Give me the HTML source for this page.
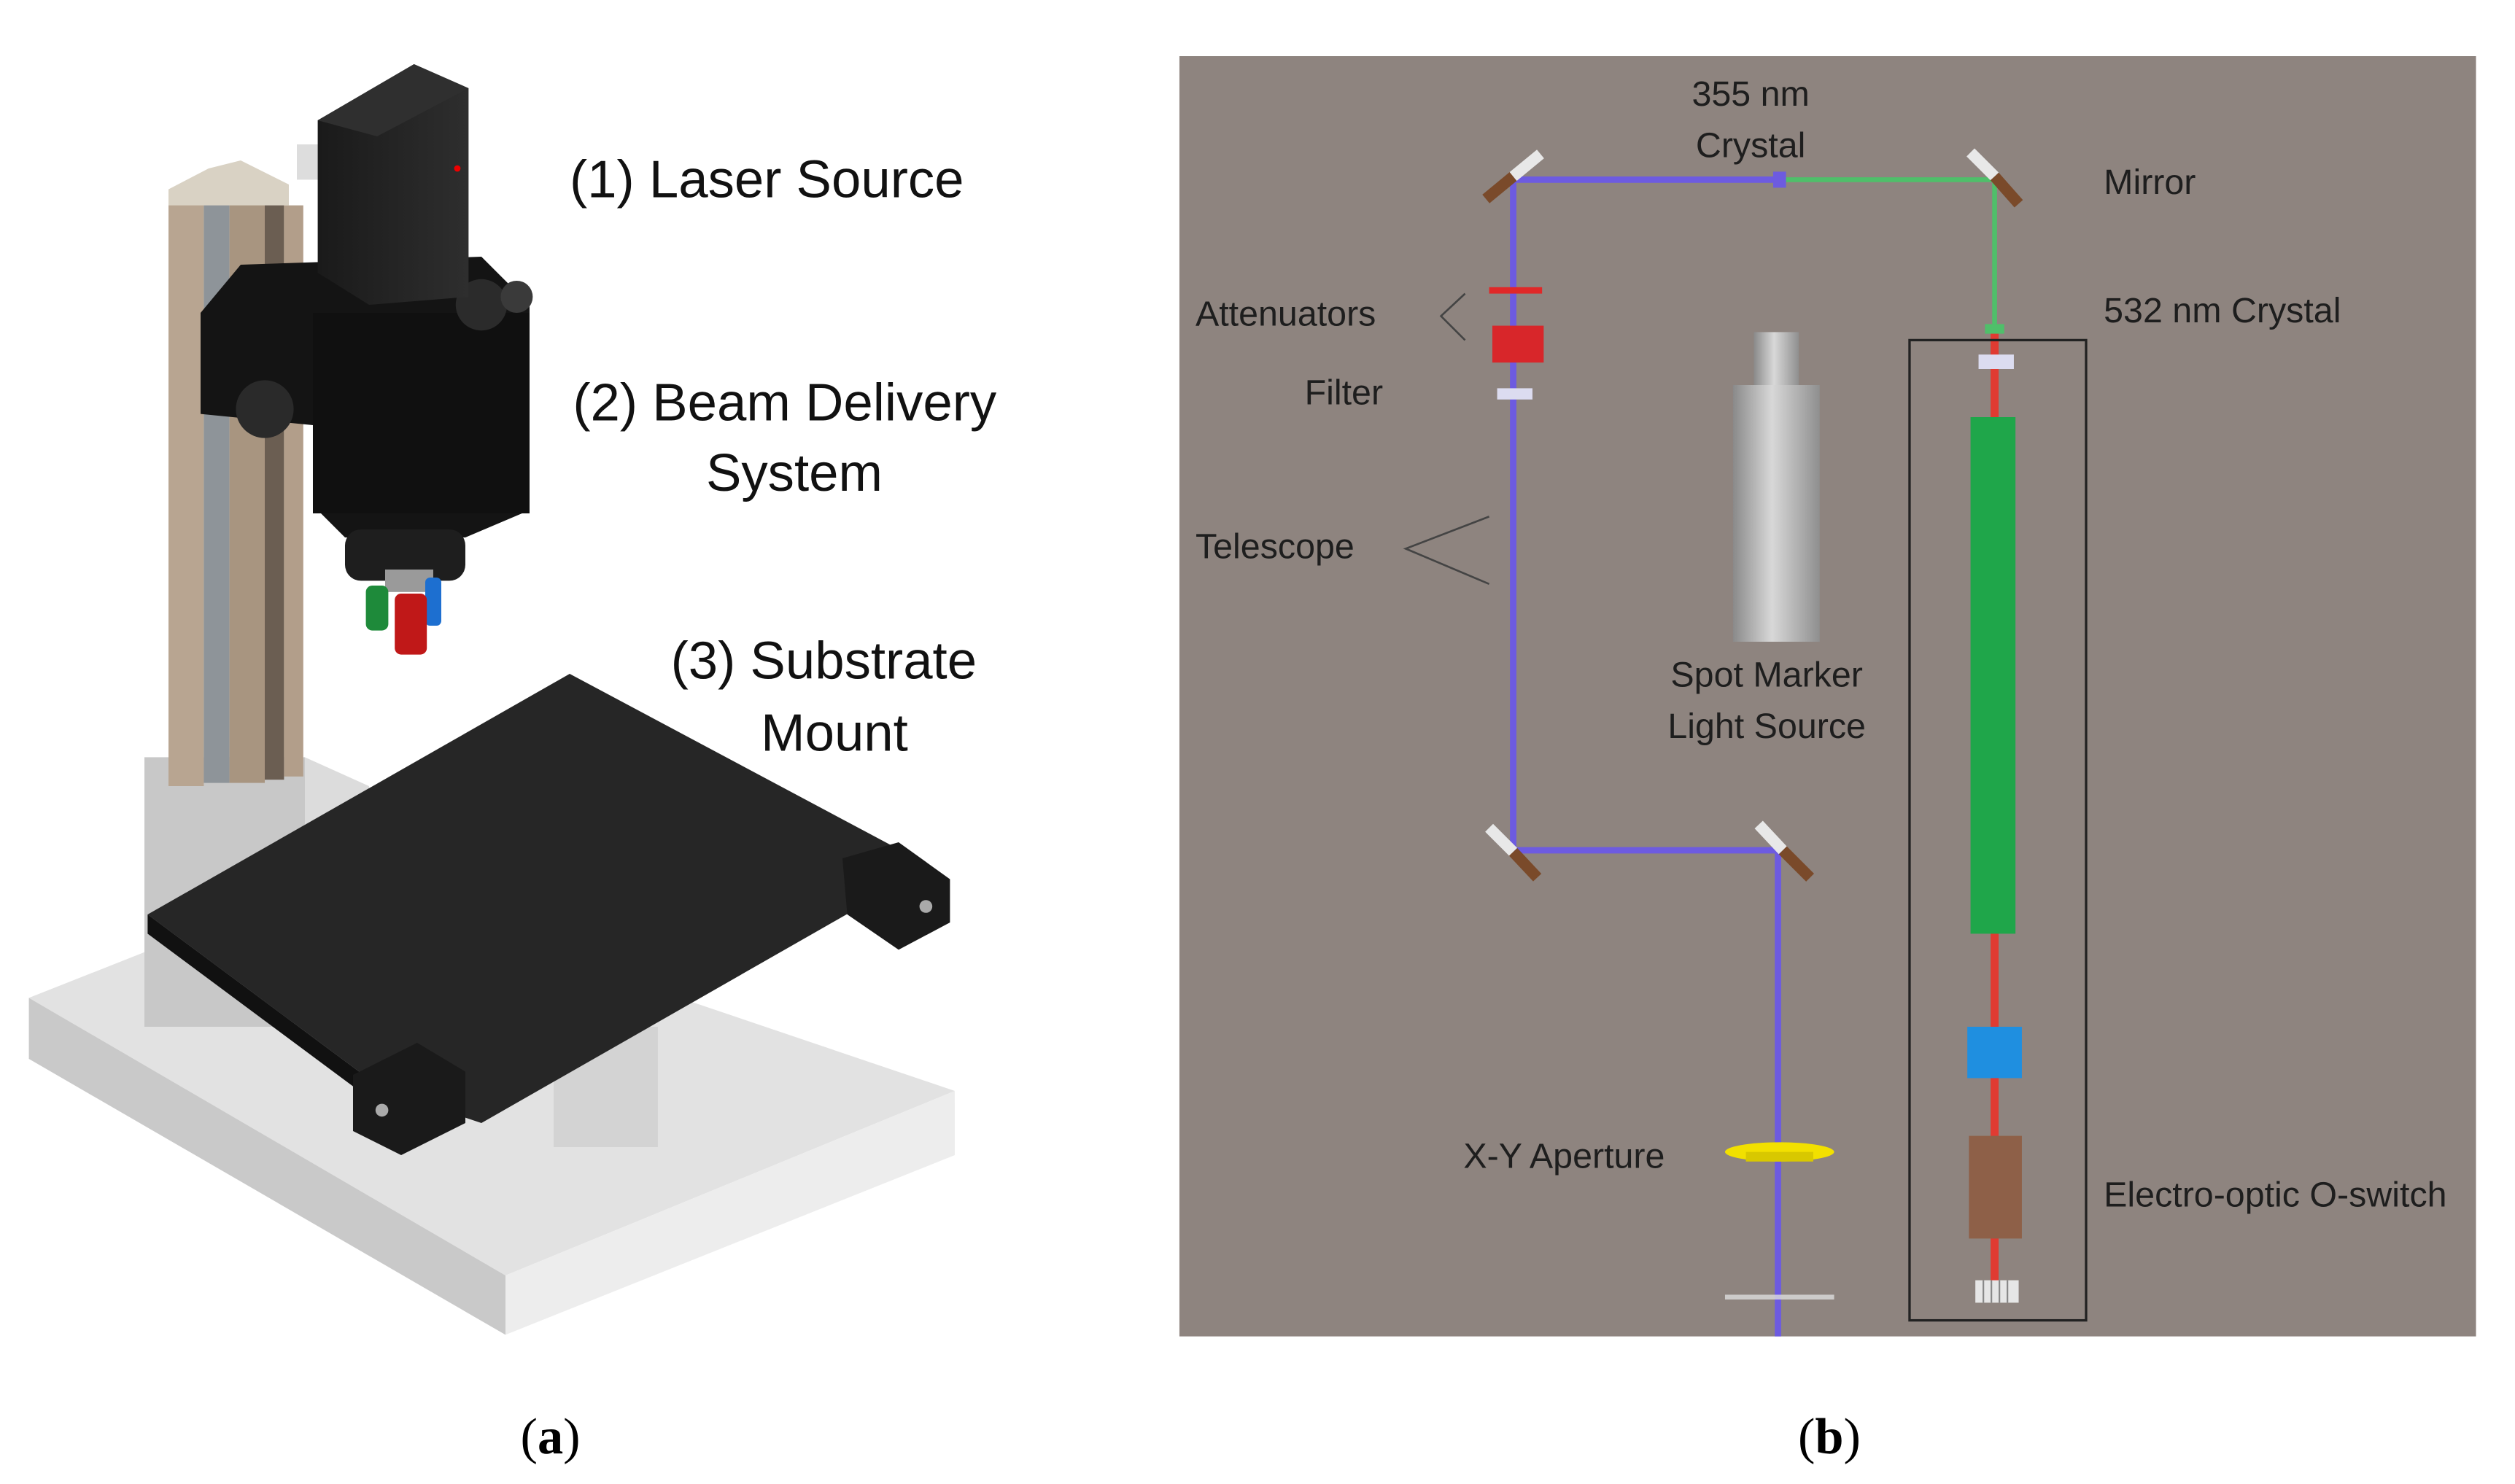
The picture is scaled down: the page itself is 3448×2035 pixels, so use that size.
<!DOCTYPE html>
<html><head><meta charset="utf-8"><style>
html,body{margin:0;padding:0;background:#fff;}
svg{display:block;}
text{font-family:"Liberation Sans",sans-serif;}
</style></head><body>
<svg width="3448" height="2035" viewBox="0 0 1567.3 925" preserveAspectRatio="none" xmlns="http://www.w3.org/2000/svg">
<defs>
<linearGradient id="cyl" x1="0" x2="1"><stop offset="0" stop-color="#8a8a8a"/><stop offset="0.45" stop-color="#d8d8d8"/><stop offset="1" stop-color="#8f8f8f"/></linearGradient>
<linearGradient id="blk" x1="0" x2="1"><stop offset="0" stop-color="#1a1a1a"/><stop offset="1" stop-color="#2e2e2e"/></linearGradient>
</defs>
<rect width="1570" height="930" fill="#fff"/>
<polygon points="18,622 205,548 595,680 315,795" fill="#e2e2e2"/>
<polygon points="18,622 315,795 315,832 18,660" fill="#c9c9c9"/>
<polygon points="315,795 595,680 595,720 315,832" fill="#ededed"/>
<rect x="90" y="472" width="100" height="168" fill="#c8c8c8"/>
<polygon points="190,472 230,490 230,600 190,610" fill="#dcdcdc"/>
<rect x="105" y="118" width="22" height="372" fill="#b8a591"/>
<rect x="127" y="122" width="16" height="366" fill="#8e9499"/>
<rect x="143" y="122" width="22" height="366" fill="#a89580"/>
<rect x="165" y="126" width="12" height="360" fill="#6b5e52"/>
<rect x="177" y="128" width="12" height="356" fill="#b29e8a"/>
<polygon points="105,118 130,105 150,100 180,115 180,128 105,128" fill="#d9d2c4"/>
<rect x="185" y="90" width="20" height="22" fill="#ddd"/>
<polygon points="125,195 150,165 300,160 330,190 330,318 290,335 215,335 195,315 195,265 125,258" fill="#141414"/>
<rect x="195" y="195" width="135" height="125" fill="#101010"/>
<circle cx="165" cy="255" r="18" fill="#2a2a2a"/>
<circle cx="300" cy="190" r="16" fill="#2b2b2b"/>
<circle cx="322" cy="185" r="10" fill="#3a3a3a"/>
<rect x="215" y="330" width="75" height="32" rx="10" fill="#1e1e1e"/>
<rect x="240" y="355" width="30" height="14" fill="#9a9a9a"/>
<rect x="228" y="365" width="14" height="28" rx="4" fill="#1e8a3a"/>
<rect x="265" y="360" width="10" height="30" rx="3" fill="#1d6fd0"/>
<rect x="246" y="370" width="20" height="38" rx="4" fill="#c01818"/>
<polygon points="198,75 258,40 292,55 292,185 230,190 198,170" fill="url(#blk)"/>
<polygon points="198,75 258,40 292,55 235,85" fill="#2f2f2f"/>
<circle cx="285" cy="105" r="2" fill="#e00"/>
<rect x="345" y="640" width="65" height="75" fill="#d3d3d3"/>
<polygon points="92,570 355,420 580,540 300,700 240,680" fill="#262626"/>
<polygon points="92,570 240,680 240,692 92,582" fill="#111"/>
<polygon points="525,535 560,525 592,548 592,575 560,592 528,570" fill="#1a1a1a"/>
<circle cx="577" cy="565" r="4" fill="#aaa"/>
<polygon points="220,670 260,650 290,668 290,700 250,720 220,705" fill="#1a1a1a"/>
<circle cx="238" cy="692" r="4" fill="#aaa"/>
<g font-size="33" fill="#111">
<text x="355" y="123">(1) Laser Source</text>
<text x="357" y="262">(2) Beam Delivery</text>
<text x="495" y="306" text-anchor="middle">System</text>
<text x="418" y="423">(3) Substrate</text>
<text x="520" y="468" text-anchor="middle">Mount</text>
</g>
<text x="343" y="906" text-anchor="middle" font-size="32" style="font-family:'Liberation Serif',serif">(<tspan font-weight="bold">a</tspan>)</text>
<text x="1140" y="906" text-anchor="middle" font-size="32" style="font-family:'Liberation Serif',serif">(<tspan font-weight="bold">b</tspan>)</text>

<rect x="735" y="35" width="808" height="798" fill="#8e847f"/>
<polyline points="943,530 943,112 1110,112" fill="none" stroke="#6d5be0" stroke-width="4"/>
<polyline points="943,530 1108,530 1108,833" fill="none" stroke="#6d5be0" stroke-width="4"/>
<polyline points="1110,112 1243,112 1243,205" fill="none" stroke="#4fbf6a" stroke-width="3"/>
<line x1="1243" y1="205" x2="1243" y2="810" stroke="#e03b32" stroke-width="5"/>
<rect x="1105" y="107" width="8" height="10" fill="#6d5be0"/>
<g stroke-width="7" stroke-linecap="butt">
<line x1="926" y1="124" x2="943" y2="110" stroke="#7a4a2a"/><line x1="943" y1="110" x2="960" y2="96" stroke="#e8e8e8"/>
<line x1="1228" y1="95" x2="1243" y2="110" stroke="#e8e8e8"/><line x1="1243" y1="110" x2="1258" y2="127" stroke="#7a4a2a"/>
<line x1="928" y1="516" x2="943" y2="531" stroke="#e8e8e8"/><line x1="943" y1="531" x2="958" y2="547" stroke="#7a4a2a"/>
<line x1="1096" y1="514" x2="1111" y2="530" stroke="#e8e8e8"/><line x1="1111" y1="530" x2="1128" y2="547" stroke="#7a4a2a"/>
</g>
<rect x="928" y="179" width="33" height="4" fill="#e02828"/>
<rect x="930" y="203" width="32" height="23" fill="#d8262a"/>
<rect x="933" y="242" width="22" height="7" fill="#dcdcf0"/>
<polyline points="913,183 898,197 913,212" fill="none" stroke="#444" stroke-width="1.2"/>
<polyline points="928,322 876,342 928,364" fill="none" stroke="#444" stroke-width="1.2"/>
<rect x="1093" y="207" width="28" height="35" fill="url(#cyl)"/>
<rect x="1080" y="240" width="54" height="160" fill="url(#cyl)"/>
<rect x="1190" y="212" width="110" height="611" fill="none" stroke="#222" stroke-width="1.5"/>
<rect x="1233" y="221" width="22" height="9" fill="#dcdcf0"/>
<rect x="1237" y="202" width="12" height="6" fill="#4fbf6a"/>
<rect x="1228" y="260" width="28" height="322" fill="#1fa64a"/>
<rect x="1226" y="640" width="34" height="32" fill="#1f8fe0"/>
<rect x="1227" y="708" width="33" height="64" fill="#8e6048"/>
<rect x="1231" y="798" width="27" height="14" fill="#e6e6e6"/>
<g stroke="#888" stroke-width="1"><line x1="1236" y1="798" x2="1236" y2="812"/><line x1="1241" y1="798" x2="1241" y2="812"/><line x1="1246" y1="798" x2="1246" y2="812"/><line x1="1251" y1="798" x2="1251" y2="812"/></g>
<ellipse cx="1109" cy="718" rx="34" ry="6" fill="#f2e000"/>
<rect x="1088" y="718" width="42" height="6" fill="#d8c800"/>
<rect x="1075" y="807" width="68" height="3" fill="#ddd" opacity="0.8"/>
<g font-size="22" fill="#1e1e1e">
<text x="1091" y="66" text-anchor="middle">355 nm</text>
<text x="1091" y="98" text-anchor="middle">Crystal</text>
<text x="1311" y="121">Mirror</text>
<text x="1311" y="201">532 nm Crystal</text>
<text x="745" y="203">Attenuators</text>
<text x="813" y="252">Filter</text>
<text x="745" y="348">Telescope</text>
<text x="1101" y="428" text-anchor="middle">Spot Marker</text>
<text x="1101" y="460" text-anchor="middle">Light Source</text>
<text x="912" y="728">X-Y Aperture</text>
<text x="1311" y="752">Electro-optic O-switch</text>
</g>
</svg>
</body></html>
